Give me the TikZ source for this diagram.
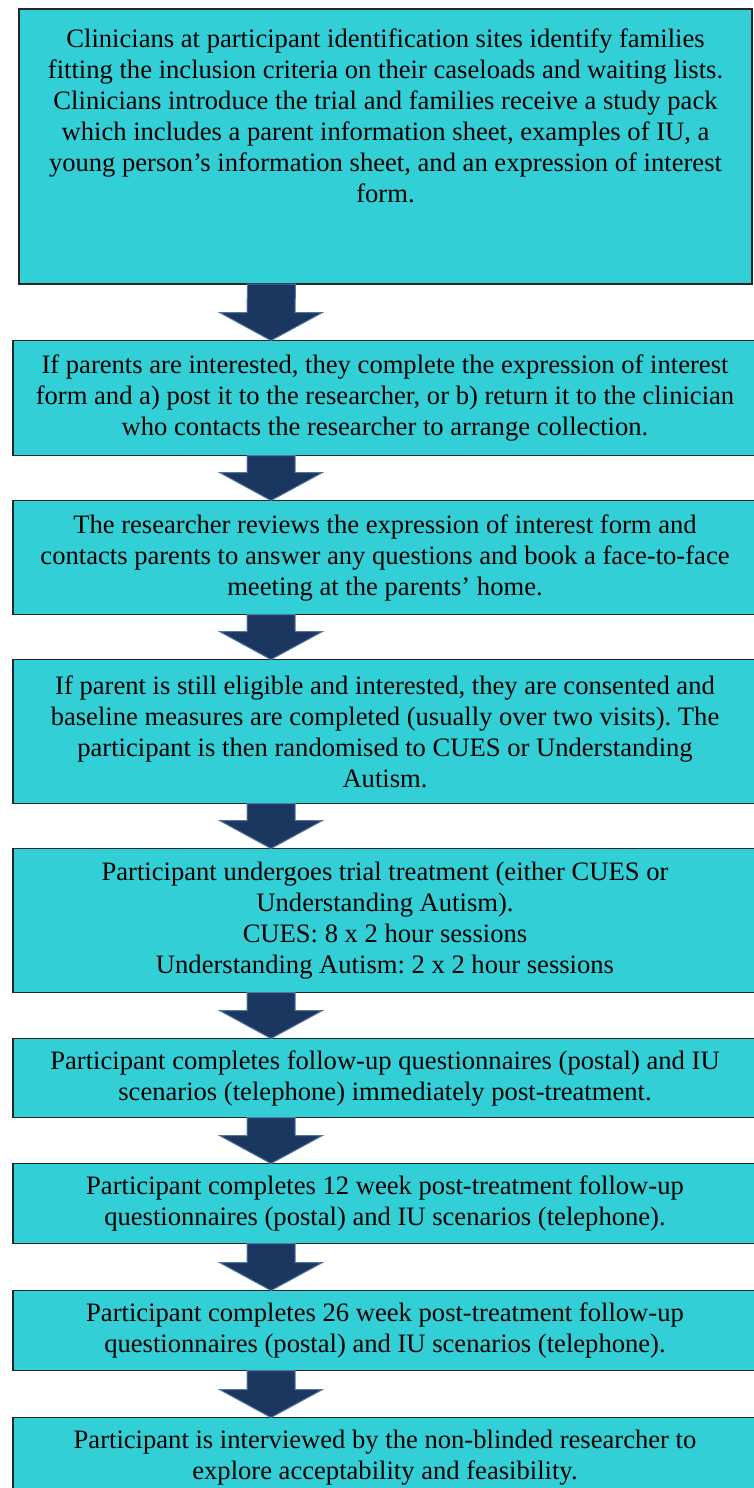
\documentclass[tikz,border=0pt]{standalone}
\usepackage{fontspec}
\setmainfont{Liberation Serif}
\frenchspacing
\usetikzlibrary{calc}
\definecolor{boxcyan}{RGB}{51,207,214}
\definecolor{arrownavy}{RGB}{27,54,95}
\definecolor{arrowedge}{RGB}{80,118,168}
\tikzset{
  stage/.style ={draw=black!85, fill=boxcyan, line width=1.3pt, outer sep=0pt,
                 minimum width=744pt, inner xsep=2pt, align=center,
                 font=\fontsize{26.6}{31}\selectfont},
  blk/.style   ={fill=arrownavy, draw=arrowedge, line width=1pt, line join=miter},
}
% block arrow from the foot of one stage to the head of the next
\newcommand{\flowarrow}[2]{%
  \draw[blk] ($(#1.south)+(-138,0)$) -- ($(#1.south)+(-90,0)$)
    -- ($(#2.north)+(-90,-28)$) -- ($(#2.north)+(-62.5,-28)$)
    -- ($(#2.north)+(-114,0)$) -- ($(#2.north)+(-165.5,-28)$)
    -- ($(#2.north)+(-138,-28)$) -- cycle;}

\begin{document}
\begin{tikzpicture}[x=1pt, y=-1pt]
  \useasboundingbox (0,0) rectangle (753,1488);

  % ---------------- recruitment ----------------
  \node[stage, minimum width=733pt, minimum height=275pt] (identify) at (385.5,146.5)
        {Clinicians at participant identification sites identify families\\
         fitting the inclusion criteria on their caseloads and waiting lists.\\
         Clinicians introduce the trial and families receive a study pack\\
         which includes a parent information sheet, examples of IU, a\\
         young person’s information sheet, and an expression of interest\\
         form.\\ ~\\ ~};
  \node[stage, minimum height=115pt] (interest) at (385,398)
        {If parents are interested, they complete the expression of interest\\
         form and a) post it to the researcher, or b) return it to the clinician\\
         who contacts the researcher to arrange collection.};
  \node[stage, minimum height=114pt] (review) at (385,557.5)
        {The researcher reviews the expression of interest form and\\
         contacts parents to answer any questions and book a face-to-face\\
         meeting at the parents’ home.};
  \node[stage, minimum height=144pt] (consent) at (385,731.5)
        {If parent is still eligible and interested, they are consented and\\
         baseline measures are completed (usually over two visits). The\\
         participant is then randomised to CUES or Understanding\\
         Autism.};

  % ---------------- treatment and follow-up ----------------
  \node[stage, minimum height=144pt] (treat) at (385,920.5)
        {Participant undergoes trial treatment (either CUES or\\
         Understanding Autism).\\
         CUES: 8 x 2 hour sessions\\
         Understanding Autism: 2 x 2 hour sessions};
  \node[stage, minimum height=79pt] (postfu) at (385,1078)
        {Participant completes follow-up questionnaires (postal) and IU\\
         scenarios (telephone) immediately post-treatment.};
  \node[stage, minimum height=80pt] (fu12) at (385,1203.5)
        {Participant completes 12 week post-treatment follow-up\\
         questionnaires (postal) and IU scenarios (telephone).};
  \node[stage, minimum height=80pt] (fu26) at (385,1330.5)
        {Participant completes 26 week post-treatment follow-up\\
         questionnaires (postal) and IU scenarios (telephone).};
  \node[stage, minimum height=80pt] (interview) at (385,1457.5)
        {Participant is interviewed by the non-blinded researcher to\\
         explore acceptability and feasibility.};

  % ---- arrows between stages ----
  \foreach \a/\b in {identify/interest, interest/review, review/consent,
                     consent/treat, treat/postfu, postfu/fu12, fu12/fu26,
                     fu26/interview}
    \flowarrow{\a}{\b};
\end{tikzpicture}
\end{document}
